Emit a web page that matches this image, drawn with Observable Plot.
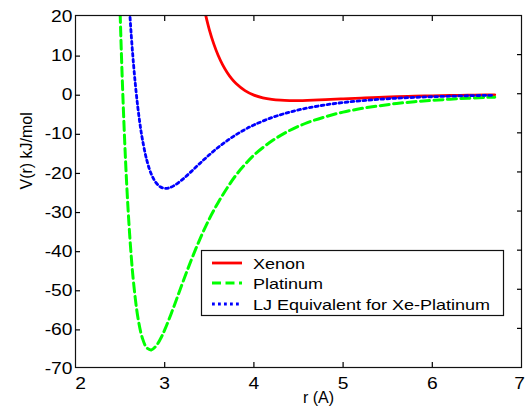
<!DOCTYPE html>
<html><head><meta charset="utf-8">
<script src="https://cdn.jsdelivr.net/npm/d3@7"></script>
<script src="https://cdn.jsdelivr.net/npm/@observablehq/plot@0.6"></script>
<style>
body{margin:0;background:#fff}
svg{font-family:"Liberation Sans",Arial,Helvetica,sans-serif}
</style>
</head><body><div id="chart"></div>
<script>
// ---- data ----
const seriesNames = ["Xenon", "Platinum", "LJ Equivalent for Xe-Platinum"];
const seriesColors = ["#ff0000", "#00ff00", "#0000ff"];
const seriesDash = [null, "9,4.5", "2.8,3.2"];

const xenonR = [3.45,3.5,3.55,3.6,3.65,3.7,3.75,3.8,3.9,4.0,4.1,4.2,4.3,4.4,4.5,4.6,4.8,5.0,5.2,5.4,5.6,5.8,6.0,6.2,6.4,6.6,6.7];
const xenonV = [21.0,16.4,12.75,9.78,7.38,5.44,3.87,2.61,0.80,-0.35,-1.04,-1.45,-1.66,-1.74,-1.74,-1.69,-1.52,-1.31,-1.10,-0.92,-0.77,-0.64,-0.53,-0.45,-0.37,-0.31,-0.29];

const platinumR = [2.48,2.5,2.52,2.55,2.575,2.6,2.625,2.65,2.7,2.75,2.8,2.85,2.9,2.95,3.0,3.1,3.2,3.3,3.4,3.5,3.6,3.7,3.8,3.9,4.0,4.2,4.4,4.6,4.8,5.0,5.2,5.4,5.6,5.8,6.0,6.2,6.4,6.6,6.7];
const platinumV = [37.8,21.0,6.5,-11.4,-23.6,-33.5,-41.6,-48.1,-57.3,-62.5,-65.0,-65.5,-64.6,-62.8,-60.4,-54.6,-48.4,-42.4,-36.9,-32.0,-27.8,-24.1,-20.8,-18.1,-15.7,-12.1,-9.4,-7.4,-5.9,-4.7,-3.8,-3.1,-2.5,-2.05,-1.7,-1.4,-1.15,-0.95,-0.88];

const ljR = [2.58,2.6,2.625,2.65,2.675,2.7,2.725,2.75,2.8,2.85,2.9,2.95,3.0,3.05,3.1,3.2,3.3,3.4,3.5,3.6,3.7,3.8,3.9,4.0,4.2,4.4,4.6,4.8,5.0,5.2,5.4,5.6,5.8,6.0,6.2,6.4,6.6,6.7];
const ljV = [31.8,23.7,15.0,7.67,1.46,-3.73,-8.07,-11.67,-17.06,-20.56,-22.68,-23.80,-24.19,-24.06,-23.56,-21.91,-19.85,-17.69,-15.62,-13.71,-12.0,-10.48,-9.15,-7.99,-6.11,-4.71,-3.65,-2.85,-2.25,-1.79,-1.43,-1.15,-0.94,-0.77,-0.63,-0.52,-0.43,-0.40];

const xTicks = [2,3,4,5,6,7];
const yTicks = [-70,-60,-50,-40,-30,-20,-10,0,10,20];
const xLabel = "r (A)";
const yLabel = "V(r) kJ/mol";

// ---- build tables ----
const toRows = (R, V) => R.map((r, i) => ({r, v: V[i]}));
const series = [toRows(xenonR, xenonV), toRows(platinumR, platinumV), toRows(ljR, ljV)];
const seriesWidth = [2.8, 3, 2.8];

const lineMarks = series.map((rows, i) => Plot.line(rows, {
  x: "r", y: "v", stroke: seriesColors[i], strokeWidth: seriesWidth[i],
  strokeDasharray: seriesDash[i] ?? undefined, curve: "catmull-rom", clip: true
}));

const fmt = d => String(d); // ASCII hyphen-minus like the reference
const FS = 16;

const chart = Plot.plot({
  width: 526, height: 413,
  marginLeft: 75, marginRight: 5, marginTop: 15, marginBottom: 46,
  style: {fontSize: FS + "px", background: "white", color: "black", overflow: "visible"},
  x: {domain: [2, 7]},
  y: {domain: [-70, 20]},
  marks: [
    ...lineMarks,
    Plot.frame({stroke: "#111", strokeWidth: 1.2}),
    Plot.axisX(xTicks.slice(1, -1), {anchor: "bottom", tickSize: -5, tickPadding: 15, label: null, strokeWidth: 1.2, fontSize: FS, tickFormat: fmt}),
    Plot.axisX([xTicks[0]], {anchor: "bottom", tickSize: 0, tickPadding: 10, dx: 5, label: null, fontSize: FS, tickFormat: fmt}),
    Plot.axisX([xTicks[xTicks.length - 1]], {anchor: "bottom", tickSize: 0, tickPadding: 10, dx: -2, label: null, fontSize: FS, tickFormat: fmt}),
    Plot.axisX(xTicks.slice(1, -1), {anchor: "top", tickSize: -5, tickFormat: () => "", label: null, strokeWidth: 1.2}),
    Plot.axisY(yTicks.slice(1, -1), {anchor: "left", tickSize: -5, tickPadding: 8, dy: 1.5, label: null, strokeWidth: 1.2, fontSize: FS, tickFormat: fmt}),
    Plot.axisY([yTicks[0], yTicks[yTicks.length - 1]], {anchor: "left", tickSize: 0, tickPadding: 3, dy: 1.5, label: null, fontSize: FS, tickFormat: fmt}),
    Plot.axisY(yTicks.slice(1, -1), {anchor: "right", tickSize: -5, tickFormat: () => "", label: null, strokeWidth: 1.2}),
    Plot.text([xLabel], {frameAnchor: "bottom", dx: 20, dy: 35, text: d => d, fontSize: FS, ariaLabel: "xlabel"}),
    Plot.text([yLabel], {frameAnchor: "left", dx: -49, dy: -2, rotate: -90, text: d => d, fontSize: FS, ariaLabel: "ylabel"})
  ]
});
document.getElementById("chart").appendChild(chart);

// ---- legend (inside the plot frame, like the reference) ----
const svg = d3.select(chart);
const lg = svg.append("g").attr("aria-label", "legend").attr("text-anchor", "start");
lg.append("rect").attr("x", 201.5).attr("y", 250.5).attr("width", 302).attr("height", 65)
  .attr("fill", "white").attr("stroke", "#111").attr("stroke-width", 1.2);
const rowY = [263, 283, 304];
seriesNames.forEach((name, i) => {
  lg.append("line").attr("x1", 212).attr("x2", 242).attr("y1", rowY[i]).attr("y2", rowY[i])
    .attr("stroke", seriesColors[i]).attr("stroke-width", seriesWidth[i])
    .attr("stroke-dasharray", seriesDash[i]);
  lg.append("text").attr("class", "legtext").attr("x", 253).attr("y", rowY[i] + 6)
    .attr("text-anchor", "start").attr("font-size", 15).attr("fill", "black").text(name);
});

// glyphs in the reference are wider than Arial proportions: stretch horizontally
function stretch(nodes, k) {
  nodes.forEach(t => {
    const w = t.getComputedTextLength();
    t.setAttribute("textLength", (w * k).toFixed(1));
    t.setAttribute("lengthAdjust", "spacingAndGlyphs");
  });
}
stretch(chart.querySelectorAll('g[aria-label="x-axis tick label"] text'), 1.2);
stretch(chart.querySelectorAll('g[aria-label="y-axis tick label"] text'), 1.2);
stretch(chart.querySelectorAll('g[aria-label="xlabel"] text'), 1.2);
stretch(chart.querySelectorAll('g[aria-label="ylabel"] text'), 1.3);
stretch(chart.querySelectorAll('text.legtext'), 1.2);
</script>
</body></html>
